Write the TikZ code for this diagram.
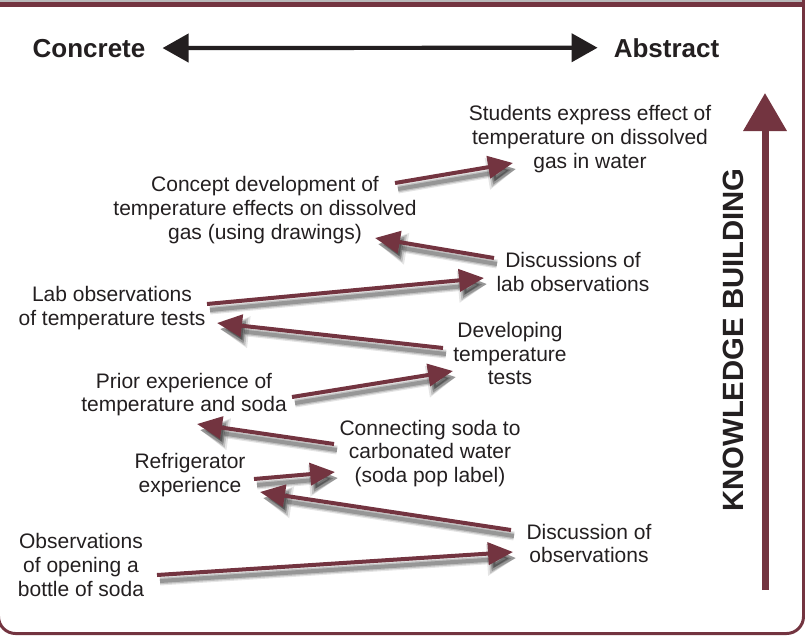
\documentclass[tikz,border=0pt]{standalone}
\usepackage{fontspec}
\setmainfont{Liberation Sans}
\usetikzlibrary{arrows.meta}
\definecolor{maroon}{HTML}{733440}
\definecolor{ink}{HTML}{231F20}
\tikzset{
  txt/.style={font=\fontsize{21}{23.6}\selectfont, text=ink, align=center, inner sep=0pt},
  pole/.style={font=\bfseries\fontsize{26}{30}\selectfont, text=ink, inner sep=0pt, anchor=base},
  axislabel/.style={font=\bfseries\fontsize{29.3}{32}\selectfont, text=ink, inner sep=0pt},
  flowarrow/.style={draw=maroon, line width=4pt, -{Triangle[length=25pt,width=22pt]}},
  softshadow/.style={draw=black, opacity=#1},
}
% maroon arrow with a soft grey drop shadow below it
\newcommand\flowlink[2]{%
  \begin{scope}[transform canvas={shift={(3pt,-6pt)}}]
    \draw[softshadow=0.10, line width=9pt, -{Triangle[length=29pt,width=30pt]}] (#1) -- (#2);
    \draw[softshadow=0.16, line width=6.5pt, -{Triangle[length=27pt,width=26pt]}] (#1) -- (#2);
    \draw[softshadow=0.22, line width=4pt, -{Triangle[length=25pt,width=22pt]}] (#1) -- (#2);
  \end{scope}
  \draw[flowarrow] (#1) -- (#2);
}
\begin{document}
\begin{tikzpicture}[x=1pt, y=-1pt]
\useasboundingbox (0,0) rectangle (805,635);
\begin{scope}
  \clip (0,0) rectangle (805,635);
  % frame
  \fill[gray!55] (0,0) rectangle (805,2);
  \draw[maroon, line width=3pt, rounded corners=17pt]
    (803.5,-20) -- (803.5,633.5) -- (-1.5,633.5) -- (-1.5,-20);
  \fill[maroon] (0,2) rectangle (805,6.5);
\end{scope}

% concrete / abstract scale
\node[pole] (concrete) at (89,57) {Concrete};
\node[pole] (abstract) at (666.5,57) {Abstract};
\draw[ink, line width=4.2pt, {Triangle[length=26pt,width=28pt]}-{Triangle[length=26pt,width=28pt]},
      shorten <=17pt, shorten >=16pt] (concrete.east) -- (abstract.west);

% knowledge building axis
\coordinate (kbfoot) at (765,590);
\coordinate (kbtip) at (765,93);
\draw[maroon, line width=7pt, -{Triangle[length=38pt,width=42pt]}] (kbfoot) -- (kbtip);
\node[axislabel, rotate=90] (kb) at (733.5,340) {KNOWLEDGE BUILDING};

% stages
\node[txt] (students)   at (590,139)   {Students express effect of\\temperature on dissolved\\gas in water};
\node[txt] (concept)    at (265,210)   {Concept development of\\temperature effects on dissolved\\gas (using drawings)};
\node[txt] (labdisc)    at (573,272)   {Discussions of\\lab observations};
\node[txt] (labobs)     at (112,308)   {Lab observations\\of temperature tests};
\node[txt] (developing) at (510,353.5) {Developing\\temperature\\tests};
\node[txt] (prior)      at (184,394.5) {Prior experience of\\temperature and soda};
\node[txt] (connecting) at (430,453.5) {Connecting soda to\\carbonated water\\(soda pop label)};
\node[txt] (fridge)     at (190,475)   {Refrigerator\\experience};
\node[txt] (discobs)    at (589,543.5) {Discussion of\\observations};
\node[txt] (opening)    at (81,565)    {Observations\\of opening a\\bottle of soda};

% arrow ends
\coordinate (a1) at (395,183); \coordinate (a2) at (513,163);
\coordinate (b1) at (494,258); \coordinate (b2) at (375,238);
\coordinate (c1) at (207,304); \coordinate (c2) at (484,278);
\coordinate (d1) at (443,348); \coordinate (d2) at (217,323);
\coordinate (e1) at (292,397); \coordinate (e2) at (453,371);
\coordinate (f1) at (334,444); \coordinate (f2) at (197,424);
\coordinate (g1) at (254,479); \coordinate (g2) at (335,472);
\coordinate (h1) at (511,530); \coordinate (h2) at (260,492);
\coordinate (i1) at (157,575); \coordinate (i2) at (513,552);

\flowlink{a1}{a2}
\flowlink{b1}{b2}
\flowlink{c1}{c2}
\flowlink{d1}{d2}
\flowlink{e1}{e2}
\flowlink{f1}{f2}
\flowlink{g1}{g2}
\flowlink{h1}{h2}
\flowlink{i1}{i2}
\end{tikzpicture}
\end{document}
